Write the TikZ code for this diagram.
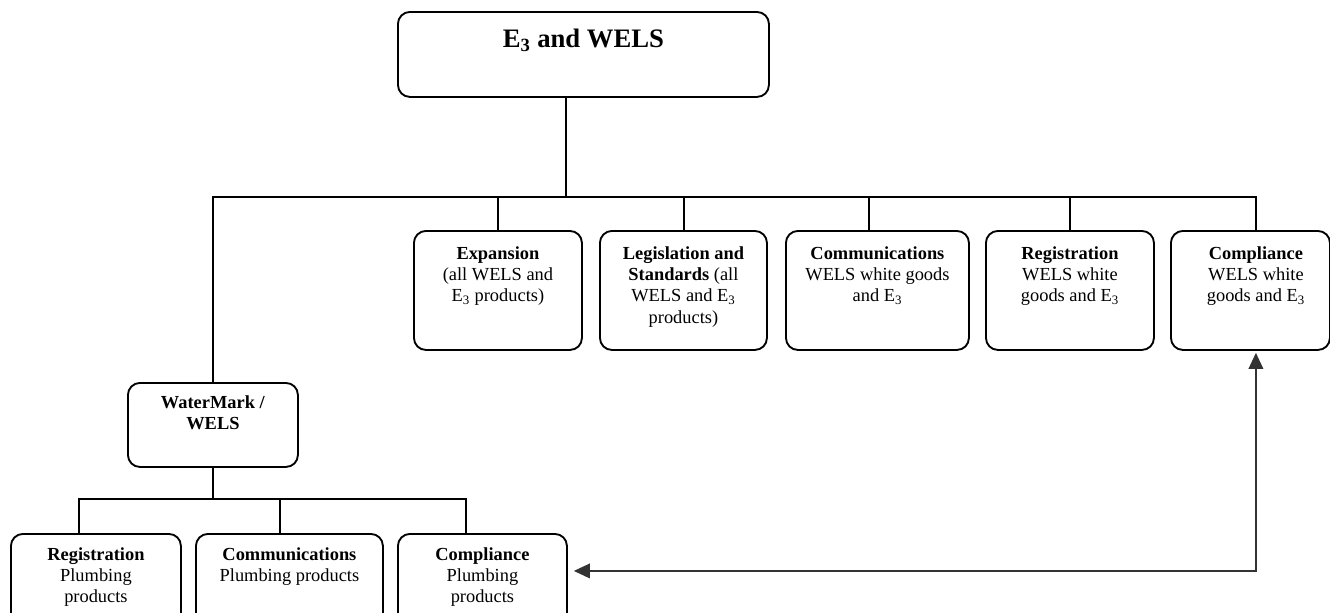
\documentclass[tikz,border=0pt]{standalone}
\usepackage{fontspec}
\setmainfont{Liberation Serif}
\usetikzlibrary{arrows.meta,positioning}

\tikzset{
  box/.style={draw, rounded corners=9pt, line width=1.4pt, inner sep=0pt, anchor=north west},
  txt/.style={align=center, inner sep=0pt, anchor=north, font=\fontsize{13.8}{15.8}\selectfont},
  link/.style={line width=1.3pt},
  backlink/.style={line width=1pt, draw=black!80,
    {Triangle[length=12pt,width=11pt]}-{Triangle[length=12pt,width=11pt]}}
}

\begin{document}
\begin{tikzpicture}[x=0.75pt, y=-0.75pt]
    \clip (0,0) rectangle (1330,612);

    % Top box
    \node[box, minimum width=278.25pt, minimum height=63.75pt] (top) at (397,11) {};
    \node[txt, font=\fontsize{20}{24}\selectfont\bfseries, below=13pt of top.north] (topT) {E\textsubscript{3} and WELS};

    % Second row
    \node[box, minimum width=126pt, minimum height=89.25pt] (exp) at (413,230) {};
    \node[box, minimum width=125.25pt, minimum height=89.25pt] (leg) at (599,230) {};
    \node[box, minimum width=137.25pt, minimum height=89.25pt] (com) at (785,230) {};
    \node[box, minimum width=126pt, minimum height=89.25pt] (reg) at (985,230) {};
    \node[box, minimum width=119.25pt, minimum height=89.25pt] (comp) at (1170,230) {};

    \node[txt, below=12.6pt of exp.north] (expT) {\textbf{Expansion}\\(all WELS and\\E\textsubscript{3} products)};
    \node[txt, below=12.6pt of leg.north] (legT) {\textbf{Legislation and}\\\textbf{Standards} (all\\WELS and E\textsubscript{3}\\products)};
    \node[txt, below=12.6pt of com.north] (comT) {\textbf{Communications}\\WELS white goods\\and E\textsubscript{3}};
    \node[txt, below=12.6pt of reg.north] (regT) {\textbf{Registration}\\WELS white\\goods and E\textsubscript{3}};
    \node[txt, below=12.6pt of comp.north, xshift=4.1pt] (compT) {\textbf{Compliance}\\WELS white\\goods and E\textsubscript{3}};

    % WaterMark branch
    \node[box, minimum width=127.5pt, minimum height=63pt] (wm) at (127,382) {};
    \node[txt, below=10.4pt of wm.north] (wmT) {\textbf{WaterMark /}\\\textbf{WELS}};

    \node[box, minimum width=127.5pt, minimum height=69pt] (preg) at (10,533) {};
    \node[box, minimum width=140.25pt, minimum height=69pt] (pcom) at (195,533) {};
    \node[box, minimum width=126.75pt, minimum height=69pt] (pcomp) at (397,533) {};

    \node[txt, below=11pt of preg.north] (pregT) {\textbf{Registration}\\Plumbing\\products};
    \node[txt, below=11pt of pcom.north] (pcomT) {\textbf{Communications}\\Plumbing products};
    \node[txt, below=11pt of pcomp.north] (pcompT) {\textbf{Compliance}\\Plumbing\\products};

    % Buses
    \coordinate (bus) at (566,197);
    \coordinate (pbus) at (213,499);
    \draw[link] (top.south -| bus) -- (bus);
    \draw[link] (wm.north) |- ([xshift=4.1pt]comp.north |- bus) -- ([xshift=4.1pt]comp.north);
    \draw[link] (exp.north) -- (exp.north |- bus);
    \draw[link] ([xshift=0.4pt]leg.north) -- ([xshift=0.4pt]leg.north |- bus);
    \draw[link] ([xshift=-6.4pt]com.north) -- ([xshift=-6.4pt]com.north |- bus);
    \draw[link] (reg.north) -- (reg.north |- bus);

    \draw[link] (wm.south) -- (pbus);
    \draw[link] ([xshift=-12.75pt]preg.north) |- ([xshift=-12.4pt]pcomp.north |- pbus) -- ([xshift=-12.4pt]pcomp.north);
    \draw[link] ([xshift=-7.1pt]pcom.north) -- ([xshift=-7.1pt]pcom.north |- pbus);

    % Feedback arrow
    \draw[backlink] ([xshift=4.5pt,yshift=6.75pt]pcomp.east) -| ([xshift=4.1pt,yshift=-1.5pt]comp.south);
\end{tikzpicture}
\end{document}
